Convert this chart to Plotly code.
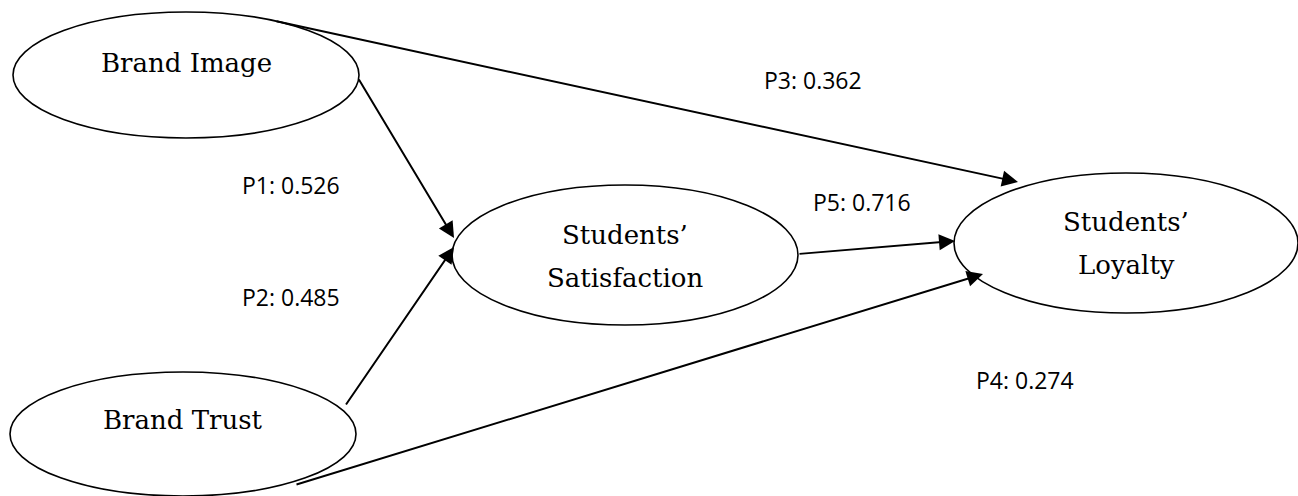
import plotly.graph_objects as go

# ---- data ----
constructs = ["Brand Image", "Brand Trust", "Students’<br>Satisfaction", "Students’<br>Loyalty"]
paths = ["P1", "P2", "P3", "P4", "P5"]
coefficients = [0.526, 0.485, 0.362, 0.274, 0.716]
path_from = ["Brand Image", "Brand Trust", "Brand Image", "Brand Trust", "Students’<br>Satisfaction"]
path_to = ["Students’<br>Satisfaction", "Students’<br>Satisfaction", "Students’<br>Loyalty", "Students’<br>Loyalty", "Students’<br>Loyalty"]

# ---- layout (pixel geometry of the diagram) ----
W, H = 1298, 496
ellipses = {
    "Brand Image": dict(cx=186, cy=75, rx=173, ry=63, ty=[63]),
    "Brand Trust": dict(cx=183, cy=434, rx=173, ry=62, ty=[420]),
    "Students’<br>Satisfaction": dict(cx=625, cy=255, rx=173, ry=70, ty=[235, 278]),
    "Students’<br>Loyalty": dict(cx=1126, cy=243, rx=172, ry=70, ty=[222, 265]),
}
arrow_geo = {
    "P1": dict(x0=358, y0=78, x1=454, y1=238, lx=291, ly=185),
    "P2": dict(x0=345, y0=406, x1=454, y1=247, lx=291, ly=297),
    "P3": dict(x0=275, y0=21, x1=1018, y1=182, lx=813, ly=80),
    "P4": dict(x0=295, y0=485, x1=983, y1=274, lx=1025, ly=380),
    "P5": dict(x0=798, y0=254, x1=955, y1=241, lx=862, ly=202),
}

fig = go.Figure()
fig.add_trace(go.Scatter(x=[0, W], y=[0, H], mode="markers", marker=dict(opacity=0),
                         hoverinfo="skip", showlegend=False))

shapes = []
annotations = []
for name in constructs:
    e = ellipses[name]
    shapes.append(dict(type="circle", xref="x", yref="y",
                       x0=e["cx"] - e["rx"], x1=e["cx"] + e["rx"],
                       y0=e["cy"] - e["ry"], y1=e["cy"] + e["ry"],
                       line=dict(color="black", width=1.6), fillcolor="white", layer="above"))
    for line_text, ty in zip(name.split("<br>"), e["ty"]):
        annotations.append(dict(x=e["cx"], y=ty, xref="x", yref="y", text=line_text, showarrow=False,
                                font=dict(family="DejaVu Serif, serif", size=26, color="black")))

for p, c, f, t in zip(paths, coefficients, path_from, path_to):
    g = arrow_geo[p]
    annotations.append(dict(x=g["x1"], y=g["y1"], ax=g["x0"], ay=g["y0"], xref="x", yref="y",
                            axref="x", ayref="y", text="", showarrow=True, arrowhead=2,
                            arrowsize=1.6, arrowwidth=2, arrowcolor="black", standoff=0))
    annotations.append(dict(x=g["lx"], y=g["ly"], xref="x", yref="y", text=f"{p}: {c:.3f}",
                            showarrow=False,
                            font=dict(family="Open Sans, Noto Sans, sans-serif", size=23, color="black")))

fig.update_layout(
    width=W, height=H,
    margin=dict(l=0, r=0, t=0, b=0),
    paper_bgcolor="white", plot_bgcolor="white",
    xaxis=dict(range=[0, W], visible=False, fixedrange=True),
    yaxis=dict(range=[H, 0], visible=False, fixedrange=True),
    shapes=shapes, annotations=annotations, showlegend=False,
)
fig.write_html("out.html", config={"displayModeBar": False},
               post_script="document.body.style.margin='0';document.body.style.overflow='hidden';")
